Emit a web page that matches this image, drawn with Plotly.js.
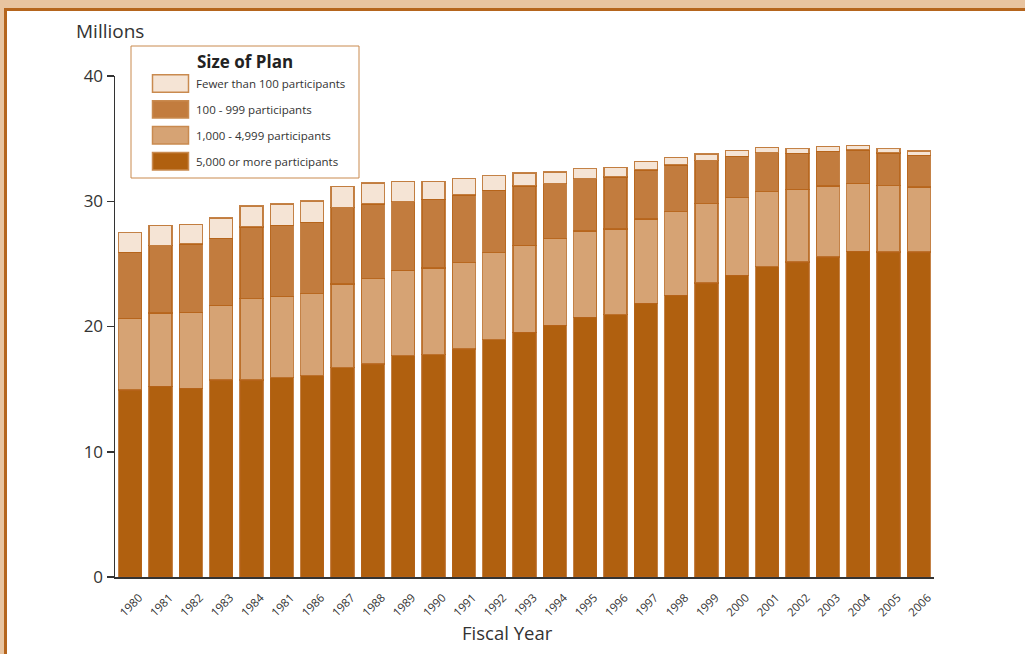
<!DOCTYPE html>
<html>
<head>
<meta charset="utf-8">
<script src="https://cdn.plot.ly/plotly-3.0.1.min.js"></script>
<style>
  html, body { margin: 0; padding: 0; background: #fff; }
  body { width: 1025px; height: 654px; position: relative; overflow: hidden; }
  #tanTop { position: absolute; left: 0; top: 0; width: 1025px; height: 8px; background: #E8C4A0; }
  #tanLeft { position: absolute; left: 0; top: 0; width: 4px; height: 654px; background: #E8C4A0; }
  #lineTop { position: absolute; left: 4px; top: 8px; width: 1021px; height: 3px; background: #B5651D; }
  #lineLeft { position: absolute; left: 4px; top: 8px; width: 3px; height: 646px; background: #B5651D; }
  #chart { position: absolute; left: 7px; top: 11px; width: 1018px; height: 643px; }
  #rightMask { position: absolute; left: 1012px; top: 11px; width: 13px; height: 643px; background: #fff; z-index: 5; }
</style>
</head>
<body>
<div id="tanTop"></div><div id="tanLeft"></div><div id="lineTop"></div><div id="lineLeft"></div>
<div id="chart"></div>
<div id="rightMask"></div>
<script>
// ---- data (millions of participants) ----
const years = ['1980','1981','1982','1983','1984','1985','1986','1987','1988','1989','1990','1991','1992',
               '1993','1994','1995','1996','1997','1998','1999','2000','2001','2002','2003','2004','2005','2006'];
// tick labels as printed in the source (note the repeated "1981")
const tickLabels = ['1980','1981','1982','1983','1984','1981','1986','1987','1988','1989','1990','1991','1992',
                    '1993','1994','1995','1996','1997','1998','1999','2000','2001','2002','2003','2004','2005','2006'];
const over5000   = [14.93,15.22,15.06,15.73,15.73,15.91,16.07,16.71,17.01,17.67,17.75,18.20,18.95,
                    19.54,20.10,20.73,20.94,21.85,22.49,23.47,24.09,24.78,25.15,25.55,26.00,25.95,25.95];
const p1000to4999 = [5.72,5.86,6.07,5.96,6.49,6.50,6.55,6.68,6.81,6.82,6.92,6.90,6.94,
                    6.94,6.91,6.89,6.84,6.73,6.68,6.33,6.20,5.99,5.80,5.67,5.43,5.29,5.19];
const p100to999  = [5.27,5.37,5.46,5.35,5.72,5.67,5.70,6.10,5.96,5.48,5.48,5.40,4.98,
                    4.74,4.39,4.18,4.16,3.92,3.72,3.44,3.30,3.11,2.87,2.76,2.66,2.61,2.53];
const under100   = [1.57,1.63,1.57,1.62,1.68,1.70,1.70,1.71,1.67,1.61,1.44,1.30,1.17,
                    1.04,0.94,0.80,0.77,0.69,0.62,0.53,0.48,0.43,0.38,0.40,0.37,0.35,0.34];
const seriesNames = ['5,000 or more participants','1,000 - 4,999 participants','100 - 999 participants','Fewer than 100 participants'];
const seriesColors = ['#B0600F','#D6A374','#C27C3E','#F5E4D5'];
const seriesValues = [over5000, p1000to4999, p100to999, under100];
const legendTitle = 'Size of Plan';
const yTicks = [0,10,20,30,40];

// ---- layout helpers (page pixel -> paper coords) ----
const OFFX = 7, OFFY = 11;              // chart div offset inside page
const M = {l:108, r:91, t:65, b:77};
const W = 1018, H = 643;
const PW = W - M.l - M.r, PH = H - M.t - M.b;
const PX = p => (p - OFFX - M.l) / PW;
const PY = p => (H - M.b - (p - OFFY)) / PH;

const FONT = '"Open Sans", "Noto Sans", sans-serif';
const TXT = '#333333';

const traces = seriesValues.map((vals, i) => ({
  type: 'bar',
  name: seriesNames[i],
  x: years,
  y: vals,
  marker: {color: seriesColors[i], line: {color: 'rgba(181,99,25,0.8)', width: 1.4}},
  hoverinfo: 'x+y+name',
  showlegend: false
}));

const shapes = [];
const annotations = [];

// manual legend (top-to-bottom order as in source)
shapes.push({type:'rect', xref:'paper', yref:'paper', x0:PX(131), x1:PX(359), y0:PY(178), y1:PY(46),
             line:{color:'#C98A4F', width:1}, fillcolor:'#ffffff', layer:'above'});
annotations.push({xref:'paper', yref:'paper', x:PX(245), y:PY(61), xanchor:'center', yanchor:'middle',
                  text:'<b>'+legendTitle+'</b>', showarrow:false, font:{family:FONT, size:17, color:'#222'}});
const legendOrder = [3,2,1,0];
legendOrder.forEach((si, k) => {
  const cy = 83.5 + k*25.9;
  shapes.push({type:'rect', xref:'paper', yref:'paper', x0:PX(152.5), x1:PX(188.5), y0:PY(cy+8.7), y1:PY(cy-8.7),
               line:{color:'#C98A4F', width:1.5}, fillcolor:seriesColors[si], layer:'above'});
  annotations.push({xref:'paper', yref:'paper', x:PX(194), y:PY(cy), xanchor:'left', yanchor:'middle',
                    text:seriesNames[si], showarrow:false, font:{family:FONT, size:11.5, color:TXT}});
});

annotations.push({xref:'paper', yref:'paper', x:PX(74), y:PY(31), xanchor:'left', yanchor:'middle',
                  text:'Millions', showarrow:false, font:{family:FONT, size:19, color:TXT}});
annotations.push({xref:'paper', yref:'paper', x:PX(507), y:PY(632), xanchor:'center', yanchor:'middle',
                  text:'Fiscal Year', showarrow:false, font:{family:FONT, size:18.5, color:TXT}});

const layout = {
  width: W, height: H,
  margin: M,
  paper_bgcolor: '#ffffff', plot_bgcolor: '#ffffff',
  barmode: 'stack',
  bargap: 0.24,
  showlegend: false,
  font: {family: FONT, color: TXT},
  xaxis: {
    type: 'category',
    tickvals: years, ticktext: tickLabels,
    tickangle: -45,
    tickfont: {family: FONT, size: 11.5, color: TXT},
    ticklabelshift: 9,
    ticklabelstandoff: 8,
    showline: true, linecolor: '#333', linewidth: 1.5,
    ticks: '', showgrid: false, zeroline: false,
    range: [-0.5, 26.5]
  },
  yaxis: {
    range: [0, 40],
    tickvals: yTicks,
    ticks: 'outside', ticklen: 7, tickwidth: 1.5, tickcolor: '#333',
    tickfont: {family: FONT, size: 17, color: TXT},
    showline: true, linecolor: '#333', linewidth: 1.5,
    showgrid: false, zeroline: false
  },
  shapes: shapes,
  annotations: annotations
};

Plotly.newPlot('chart', traces, layout, {displayModeBar: false, staticPlot: true});
</script>
</body>
</html>
